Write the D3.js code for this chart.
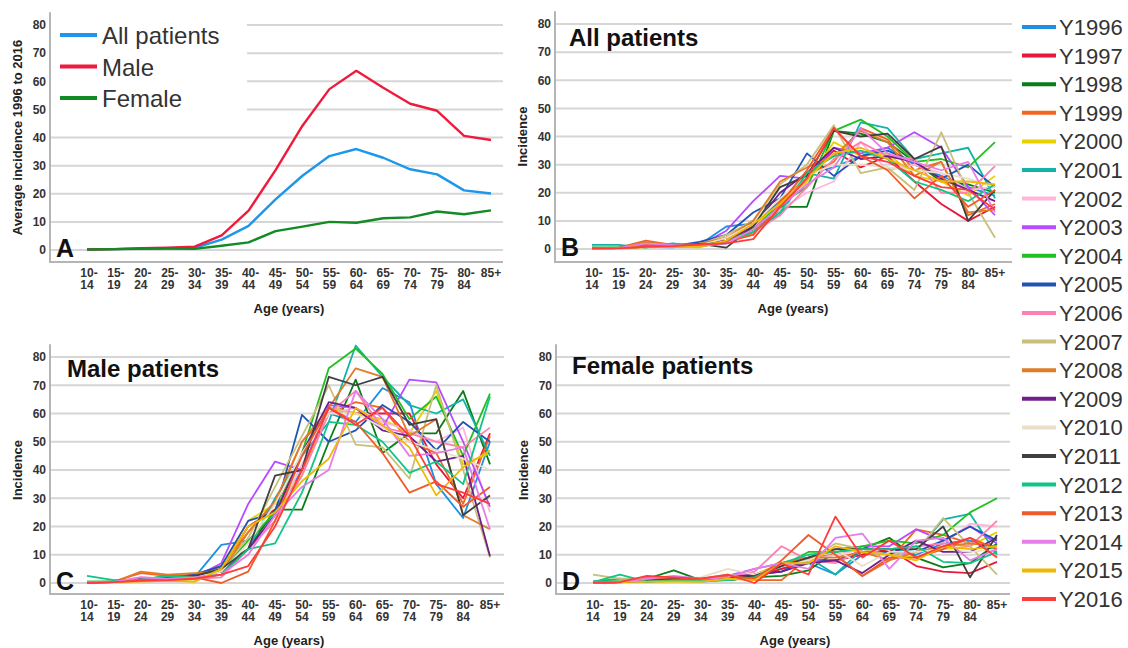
<!DOCTYPE html>
<html>
<head>
<meta charset="utf-8">
<script src="https://cdn.jsdelivr.net/npm/d3@7"></script>
<style>
  body { margin: 0; background: #fff; }
  svg { font-family: "Liberation Sans", Arial, sans-serif; }
</style>
</head>
<body>
<svg id="chart" width="1128" height="648"></svg>
<script>
// age groups on the x axis
const ages = ["10-14","15-19","20-24","25-29","30-34","35-39","40-44","45-49",
  "50-54","55-59","60-64","65-69","70-74","75-79","80-84","85+"];
const yTicks = [0,10,20,30,40,50,60,70,80];

// panel A: average incidence 1996-2016
const allAvg    = [0.2,0.3,0.5,0.6,0.8,3.7,8.6,18,26.4,33.4,35.9,32.8,28.7,26.9,21.2,20.1];
const maleAvg   = [0.2,0.3,0.6,0.8,1.2,5.2,14,28.4,44.2,57.2,63.7,57.7,52,49.5,40.6,39.1];
const femaleAvg = [0.2,0.3,0.4,0.5,0.4,1.5,2.7,6.7,8.3,10,9.7,11.3,11.6,13.7,12.7,14.1];
const avgNames  = ["All patients","Male","Female"];
const avgColors = ["#1e96ea","#ee1b3c","#138a24"];

// yearly series
const years = ["Y1996","Y1997","Y1998","Y1999","Y2000","Y2001","Y2002","Y2003","Y2004","Y2005","Y2006",
  "Y2007","Y2008","Y2009","Y2010","Y2011","Y2012","Y2013","Y2014","Y2015","Y2016"];
const yearColors = ["#1f8fe0","#e8173c","#0a7d18","#f26522","#e6d200","#12b3a8","#ffb6d9","#b84bff",
  "#1fc01f","#2352b5","#ff7fb0","#c8bf7a","#e07b28","#70208c","#e8dfc6","#404040","#10c585",
  "#f05a28","#e57ee8","#f0b800","#ff3b3b"];

// panel B: all patients
const allByYear = [
  [0.3,0.5,0.8,0.6,1.5,8,9,17,27,29,33,36,30,26,22,19],
  [0.2,0.3,1,0.8,1.2,3,6,14,26,35,29,33,24,16,10,15],
  [0.5,0.4,1.2,1,1.5,4,7,15,15,42,41,38,31,24,23,20],
  [0.2,0.5,3,1.5,1.2,4,5,17,26,31,43,39,28,31,12,16],
  [0.3,0.3,0.6,0.8,0.6,3,8,16,24,38,33,34,26,24,19,26],
  [1.5,1.5,0.5,2,1,2,8,12,27,25,45,43,32,34,36,18],
  [0.3,0.2,1.5,1,1,4,8,14,20,24,38,28,30,27,21,22],
  [0.2,0.3,1,0.8,1.2,6.5,17,26,25,36,34,36,41.5,36,22,12],
  [0.5,0.6,0.8,1.5,1.5,3,7,16,22,42,46,40,31,32,29,38],
  [0.3,0.3,0.8,1,2.5,5,13,18,34,26,33,35,31,25,30,22],
  [0.3,0.3,1.5,1.2,1,3,6,12,22,32,38,33,32,20,20,29.5],
  [0.2,0.4,1,1.3,1.6,5,10,23,30,44,27,29,21,41.5,20,4],
  [0.2,0.5,2.5,1.5,1.8,4,10,24,29,33,42,38,26,31,13,14],
  [0.2,0.3,0.8,1,1.5,3,8,20,27,36,32,33,31,25,21,17],
  [0.3,0.3,0.8,1,1.2,4,9,18,26,30,30,29,28,27,25,22],
  [0.3,0.4,0.8,1,1.8,0.5,8,22,26,42,40,41,32,36.5,10,21],
  [0.5,0.4,1,1.2,1.5,2.5,6,13,27,33,35,32,24,21,17,23],
  [0.2,0.3,1.5,1,1.5,2.5,5,16,28,43,33,28,18,26,15,21],
  [0.2,0.3,2,1.4,1,2,7,15,23,29,43,34,31,28,31,13],
  [0.2,0.3,0.7,0.8,0.8,3,9,16,25,34,36,32,28,24,24,23],
  [0.3,0.2,0.8,1,1.6,2,3.5,15,25,43,33,31,26,22,21,14]
];

// panel C: male patients
const maleByYear = [
  [0.2,0.4,1.2,1,2,13.5,15,24,40,60,57,69,64,35,23,50],
  [0,0.3,1.5,1,2,5,20,26,45,62,60,60,60,42,30,53],
  [0.4,0.3,1.5,2,2.5,6,12,26,26,50,72,46,53,53,68,42],
  [0.2,0.6,3.5,2.5,3,6,18,28,50,60,64,62,50,46,28,52],
  [0.2,0.3,1,1.2,0.5,5,22,28,38,62,60,58,53,68,42,46],
  [0.5,0.5,1,2,1.5,3,12,30,45,57,84,73,63,60,65,45],
  [0.2,0.3,2,1.5,2,4,12,22,42,60,62,57,54,50,55,25],
  [0.2,0.4,1.5,1,2,7,28,43,40,63,62,55,72,71,50,27],
  [0.5,0.6,1.2,2.5,2.5,4,15,25,46,76,83,74,58,66,45,67],
  [0.2,0.3,1,1.5,3,6,22,25,59.5,50,54,63,57,47,57,50],
  [0.3,0.3,2,1.5,1.5,2,12,22,38,60,68,55,53,50,48,55],
  [0.2,0.5,1.5,2,2.5,5,16,34,52,70,49,48,37,70,40,9],
  [0.2,0.3,4,3,3.5,4,18,29,50,62,76,73,52,58,24,19],
  [0.2,0.4,1,1.5,2.5,4,12,24,46,64,62,54,52,43,45,9.5],
  [0.3,0.3,1.2,1.5,2,4,14,28,46,60,60,55,50,47,44,40],
  [0.4,0.5,1.5,2,2.5,5,12,38,40,73,70,73,56,58,24,31],
  [2.5,1,1.2,2.5,2,3,12,14,32,57,56,50,39,43,35,66],
  [0.2,0.3,1,1.5,2,0,4,22,45,62,57,46,32,36,27,34],
  [0.2,0.4,2,1.5,2,3,10,24,34,40,68,58,45,46,48,19],
  [0.2,0.3,0.5,0.8,0.5,5,20,25,36,44,62,56,48,31,41,47],
  [0,0.3,0.8,1,1.5,3,6,20,40,62,56,62,52,35,32,28]
];

// panel D: female patients
const femaleByYear = [
  [0.2,0.3,0.5,0.8,0.5,1,2,5,7,3,10,11,10,14,15,11],
  [0,0.2,1,1.5,1,1.5,2,5,8,8,10,12,6,4,3.5,7.5],
  [0.5,0.5,1.5,4.5,1,1,2,2.5,4.5,11,12,16,9,5.5,7,14],
  [0.2,0.3,2,1.5,1,2,1,1,9,10,2.5,8,19,17,14,13],
  [0.3,0.3,0.5,0.5,0.5,1.5,3,7,9,12,11,10,9,12,13,18],
  [0.5,1.5,0.5,1,1.5,2.5,3,6,9,3,12,12,11,22.5,24.5,10],
  [0.2,0.3,1,1.5,1,2,3,6,8,10,12,12,13,14,21,20],
  [0.2,0.3,0.8,1,1,2.5,5,7,9,12,13,13,19,15,20,14],
  [0.5,0.6,0.8,1.5,1,1,2,6,11,11,13,15,14,17,25,30],
  [0.2,0.3,0.8,1,1.5,1.5,3,4,8,8,11,11,11,15,20,15],
  [0.2,0.3,1,2,1,2,4,13,8,7,12,12,13,14,13,22],
  [3,1.5,1.5,2,1.5,3,2,7,8,14,12,10,11,23,13,3],
  [0.2,0.3,1,1,1.5,1,2.5,7,9,9,11,8,11,13,14,13],
  [0.2,0.3,1,1.5,1,2,3,4,7,8,3.5,10,15,11,11,16],
  [0.3,0.5,1,1.5,2,5,3,6,8,12,6,11,11,12,11,12],
  [0.2,0.3,1,1.5,1,2,2.5,6,9,12,12,12,12,20,2,17],
  [0.3,3,0.5,1,1,1,2,7,10,11,12,12,13,7.5,7,11],
  [0.2,0.3,1.5,2,1.5,2.5,1.5,8,17,10,2.5,9,9,12,16,12],
  [0.2,0.3,1.5,2.5,1.5,2,5,7,5,16,17.5,5,15,16,8,12],
  [0.2,0.3,0.5,0.6,0.5,1.5,1,7,7,13,11,10,8,13,12,13],
  [0.2,0.3,2.5,2,1.5,3,0,7,3,23.5,9,15,9,13,16,9]
];

const svg = d3.select("#chart");

function panel(p) {
  let g = svg.append("g");
  let x = d3.scalePoint().domain(ages).range([p.x0, p.x1]);
  let y = d3.scaleLinear().domain([0, 80]).range([p.yZero, p.yTop]);

  // grid
  g.append("g").selectAll("line").data(yTicks).enter().append("line")
    .attr("x1", p.axisX).attr("x2", p.right)
    .attr("y1", d => y(d)).attr("y2", d => y(d))
    .attr("stroke", "#d6d6d6").attr("stroke-width", 2);

  // y axis
  let ya = g.append("g")
    .attr("transform", `translate(${p.axisX},0)`)
    .call(d3.axisLeft(y).tickValues(yTicks).tickSize(0).tickPadding(4));
  ya.select(".domain").remove();
  ya.selectAll("text").attr("font-size", 12).attr("font-weight", "bold")
    .attr("fill", "#333").attr("font-family", "Liberation Sans, Arial, sans-serif");

  // axis lines
  g.append("line").attr("x1", p.axisX).attr("x2", p.axisX)
    .attr("y1", y(84.5)).attr("y2", p.axisY + 1)
    .attr("stroke", "#b5b5b5").attr("stroke-width", 2);
  g.append("line").attr("x1", p.axisX).attr("x2", p.right)
    .attr("y1", p.axisY).attr("y2", p.axisY)
    .attr("stroke", "#b5b5b5").attr("stroke-width", 2);

  // x tick labels, two lines
  let xt = g.append("g").selectAll("text").data(ages).enter().append("text")
    .attr("x", d => x(d)).attr("y", p.axisY + 15)
    .attr("text-anchor", "middle").attr("font-size", 12)
    .attr("font-weight", "bold").attr("fill", "#333");
  xt.each(function(d) {
    let parts = d.split("-");
    let t = d3.select(this);
    if (parts.length == 2) {
      t.append("tspan").attr("x", x(d) + 2).text(parts[0] + "-");
      t.append("tspan").attr("x", x(d)).attr("dy", 12).text(parts[1]);
    } else {
      t.text(d);
    }
  });

  g.append("text").attr("x", p.xLabelX).attr("y", p.axisY + 51)
    .attr("text-anchor", "middle").attr("font-size", 13).attr("font-weight", "bold")
    .attr("fill", "#222").text("Age (years)");

  g.append("text")
    .attr("transform", `translate(${p.yLabelX},${(p.yTop + p.yZero) / 2}) rotate(-90)`)
    .attr("text-anchor", "middle").attr("font-size", 13).attr("font-weight", "bold")
    .attr("fill", "#222").text(p.yLabel);

  if (p.cover) {
    g.append("rect").attr("x", p.axisX + 1).attr("y", p.yTop - 12)
      .attr("width", p.cover[0]).attr("height", p.cover[1]).attr("fill", "#fff");
  }

  let line = d3.line().x((d, i) => x(ages[i])).y(d => y(d));
  g.append("g").selectAll("path").data(p.series).enter().append("path")
    .attr("d", d => line(d))
    .attr("fill", "none")
    .attr("stroke", (d, i) => p.colors[i])
    .attr("stroke-width", p.lw)
    .attr("stroke-linejoin", "round");

  if (p.title) {
    g.append("text").attr("x", p.titleX).attr("y", p.titleY)
      .attr("font-size", 24).attr("font-weight", "bold").attr("fill", "#111")
      .text(p.title);
  }
  g.append("text").attr("x", p.axisX + 6).attr("y", p.yZero + 7)
    .attr("font-size", 25).attr("font-weight", "bold").attr("fill", "#111")
    .text(p.letter);
  return g;
}

let gA = panel({x0: 87, x1: 491, yZero: 250, yTop: 25, axisX: 50, axisY: 262, right: 503,
  xLabelX: 289, yLabelX: 22, yLabel: "Average incidence 1996 to 2016", letter: "A",
  series: [allAvg, maleAvg, femaleAvg], colors: avgColors, lw: 2.4, cover: [196, 109]});

// legend of panel A
avgNames.forEach(function(n, i) {
  let ly = 35 + i * 31.5;
  gA.append("line").attr("x1", 60).attr("x2", 97).attr("y1", ly).attr("y2", ly)
    .attr("stroke", avgColors[i]).attr("stroke-width", 4);
  gA.append("text").attr("x", 102).attr("y", ly + 9)
    .attr("font-size", 24).attr("fill", "#333").text(n);
});

panel({x0: 592, x1: 995, yZero: 249, yTop: 24, axisX: 555, axisY: 262, right: 1012,
  xLabelX: 793, yLabelX: 527, yLabel: "Incidence", letter: "B",
  title: "All patients", titleX: 569, titleY: 46,
  series: allByYear, colors: yearColors, lw: 1.8});

panel({x0: 87, x1: 490, yZero: 583, yTop: 357, axisX: 50, axisY: 594, right: 504,
  xLabelX: 289, yLabelX: 22, yLabel: "Incidence", letter: "C",
  title: "Male patients", titleX: 67, titleY: 377,
  series: maleByYear, colors: yearColors, lw: 1.8});

panel({x0: 593, x1: 997, yZero: 583, yTop: 357, axisX: 556, axisY: 594, right: 1010,
  xLabelX: 795, yLabelX: 528, yLabel: "Incidence", letter: "D",
  title: "Female patients", titleX: 572, titleY: 374,
  series: femaleByYear, colors: yearColors, lw: 1.8});

// year legend on the right
let leg = svg.append("g");
years.forEach(function(yr, i) {
  let ly = 27 + i * 28.6;
  leg.append("line").attr("x1", 1022).attr("x2", 1056).attr("y1", ly).attr("y2", ly)
    .attr("stroke", yearColors[i]).attr("stroke-width", 4);
  leg.append("text").attr("x", 1059).attr("y", ly + 8)
    .attr("font-size", 22).attr("fill", "#333").text(yr);
});
</script>
</body>
</html>
